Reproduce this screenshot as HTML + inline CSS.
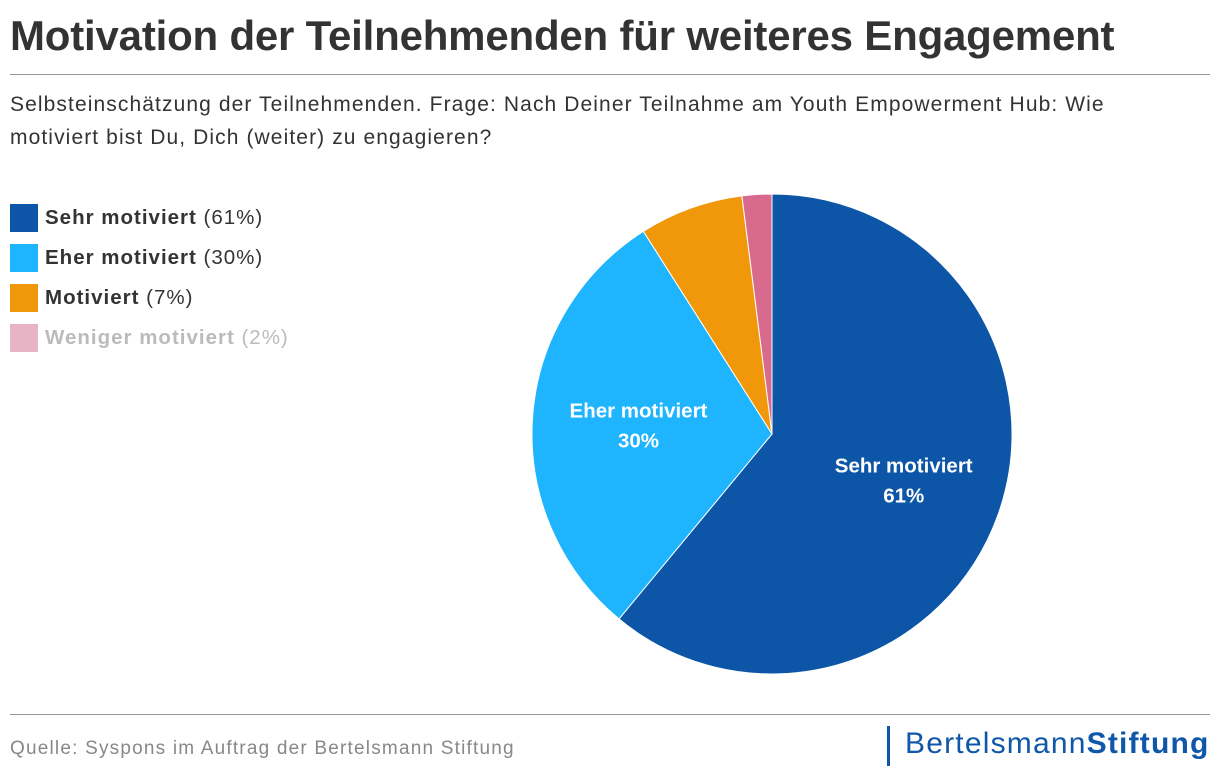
<!DOCTYPE html>
<html><head><meta charset="utf-8"><style>
body{margin:0;width:1220px;height:780px;background:#fff;font-family:"Liberation Sans",sans-serif;position:relative;overflow:hidden;color:#333}
.t{position:absolute;white-space:nowrap}
.sw{position:absolute;left:10px;width:28px;height:28px}
.lg{position:absolute;left:45px;font-size:20.5px;letter-spacing:1px;color:#333;white-space:nowrap}
</style></head><body>
<div class="t" style="left:10px;top:12px;font-size:42px;font-weight:bold;color:#333;letter-spacing:-0.2px">Motivation der Teilnehmenden für weiteres Engagement</div>
<div style="position:absolute;left:10px;top:74px;width:1200px;height:1px;background:#999"></div>
<div class="t" style="left:10px;top:88px;font-size:21px;letter-spacing:1.1px;line-height:33px;color:#333">Selbsteinschätzung der Teilnehmenden. Frage: Nach Deiner Teilnahme am Youth Empowerment Hub: Wie<br>motiviert bist Du, Dich (weiter) zu engagieren?</div>
<div id="legend"></div>
<svg id="pie" width="1220" height="780" style="position:absolute;left:0;top:0"></svg>
<div style="position:absolute;left:10px;top:714px;width:1200px;height:1px;background:#999"></div>
<div class="t" style="left:10px;top:738px;font-size:19px;letter-spacing:1.2px;color:#888">Quelle: Syspons im Auftrag der Bertelsmann Stiftung</div>
<div style="position:absolute;left:887px;top:726px;width:3px;height:40px;background:#0f57a8"></div>
<div class="t" style="left:905px;top:727px;font-size:30px;color:#0f57a8;letter-spacing:1.2px">Bertelsmann<b>Stiftung</b></div>
<script>
const categories=["Sehr motiviert","Eher motiviert","Motiviert","Weniger motiviert"];
const values=[61,30,7,2];
const colors=["#0d55a6","#1eb4fe","#f0980a","#d76a8d"];
const cx=772,cy=434,r=240;
const svg=document.getElementById('pie');
const NS="http://www.w3.org/2000/svg";
const total=values.reduce((a,b)=>a+b,0);
function pt(a,rr){return [cx+rr*Math.sin(a),cy-rr*Math.cos(a)];}
let a0=0;
values.forEach((v,i)=>{
 const a1=a0+v/total*2*Math.PI;
 const p0=pt(a0,r),p1=pt(a1,r);
 const p=document.createElementNS(NS,'path');
 p.setAttribute('d',`M${cx},${cy}L${p0[0]},${p0[1]}A${r},${r} 0 ${a1-a0>Math.PI?1:0} 1 ${p1[0]},${p1[1]}Z`);
 p.setAttribute('fill',colors[i]);p.setAttribute('stroke','#fff');p.setAttribute('stroke-width','1');
 
 
 svg.appendChild(p);
 if(v>=20){
  const m=(a0+a1)/2,lp=pt(m,r*0.57);
  [[categories[i],-8],[v+'%',22]].forEach((s,k)=>{
   const t=document.createElementNS(NS,'text');
   t.setAttribute('x',lp[0]+3);t.setAttribute('y',lp[1]+s[1]);
   t.setAttribute('text-anchor','middle');t.setAttribute('fill','#fff');
   t.setAttribute('font-size','20.5');t.setAttribute('font-weight','bold');
   t.setAttribute('font-family','Liberation Sans, sans-serif');
   t.textContent=s[0];
   
   
   svg.appendChild(t);
  });
 }
 a0=a1;
});
const lg=document.getElementById('legend');
categories.forEach((c,i)=>{
 const y=204+i*40;
 const dis=i===3;
 const s=document.createElement('div');s.className='sw';
 s.style.top=y+'px';s.style.background=dis?'#e8b3c4':colors[i];
 
 
 lg.appendChild(s);
 const l=document.createElement('div');l.className='lg';
 l.style.top=(y+2)+'px';if(dis)l.style.color='#bbb';
 l.innerHTML='<b>'+c+'</b> ('+values[i]+'%)';
 
 
 lg.appendChild(l);
});
</script>
</body></html>
